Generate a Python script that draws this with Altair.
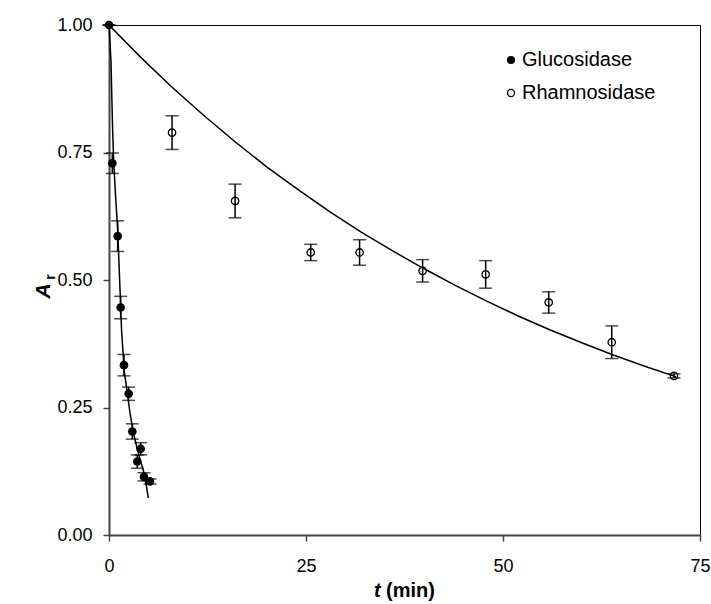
import altair as alt
import pandas as pd

# ---- data ----
gluc_t = [0, 0.42, 1.10, 1.48, 1.90, 2.49, 2.96, 3.59, 4.02, 4.44, 5.20]
gluc_a = [1.00, 0.729, 0.586, 0.446, 0.333, 0.277, 0.203, 0.144, 0.169, 0.114, 0.105]
gluc_err = [0.0, 0.020, 0.030, 0.022, 0.021, 0.013, 0.015, 0.013, 0.012, 0.008, 0.005]

rham_t = [8, 16, 25.6, 31.8, 39.8, 47.8, 55.8, 63.8, 71.7]
rham_a = [0.789, 0.655, 0.554, 0.554, 0.518, 0.511, 0.456, 0.378, 0.312]
rham_err = [0.033, 0.033, 0.016, 0.025, 0.022, 0.027, 0.021, 0.032, 0.004]

gluc_fit_t = [0, 0.25, 0.45, 0.6, 0.85, 1.1, 1.2, 1.4, 1.6, 1.94, 2.28, 2.66, 3.1, 3.52, 3.9, 4.35, 4.7, 4.99]
gluc_fit_a = [1.0, 0.93, 0.80, 0.73, 0.66, 0.60, 0.56, 0.48, 0.40, 0.32, 0.284, 0.24, 0.20, 0.173, 0.15, 0.127, 0.10, 0.073]

rham_fit_t = [0, 4, 8, 12, 16, 20, 24, 28, 32, 36, 40, 44, 48, 52, 56, 60, 64, 68, 72]
rham_fit_a = [1.0, 0.937, 0.878, 0.823, 0.771, 0.722, 0.677, 0.634, 0.594, 0.557, 0.522,
              0.489, 0.458, 0.429, 0.402, 0.377, 0.353, 0.331, 0.31]

legend_labels = ["Glucosidase", "Rhamnosidase"]
x_ticks = [0, 25, 50, 75]
y_ticks = [0, 0.25, 0.5, 0.75, 1.0]

FONT = "Liberation Sans"

gluc = pd.DataFrame({"t": gluc_t, "a": gluc_a,
                     "lo": [a - e for a, e in zip(gluc_a, gluc_err)],
                     "hi": [a + e for a, e in zip(gluc_a, gluc_err)]})
rham = pd.DataFrame({"t": rham_t, "a": rham_a,
                     "lo": [a - e for a, e in zip(rham_a, rham_err)],
                     "hi": [a + e for a, e in zip(rham_a, rham_err)]})
gfit = pd.DataFrame({"t": gluc_fit_t, "a": gluc_fit_a})
rfit = pd.DataFrame({"t": rham_fit_t, "a": rham_fit_a})

xs = alt.Scale(domain=[0, 75], nice=False, zero=False)
ys = alt.Scale(domain=[0, 1], nice=False)

x_axis = alt.Axis(values=x_ticks, title=None, tickSize=6, labelPadding=16,
                  labelFontSize=18, labelFont=FONT, labelColor="#000",
                  domainColor="#444", domainWidth=2, tickColor="#444", tickWidth=1.5,
                  grid=False, labelFlush=False)
y_axis = alt.Axis(values=y_ticks, format=".2f", title=None, tickSize=6, labelPadding=11,
                  labelFontSize=18, labelFont=FONT, labelColor="#000",
                  domainColor="#444", domainWidth=2, tickColor="#444", tickWidth=1.5,
                  grid=False)

X = alt.X("t:Q", scale=xs, axis=x_axis)
Y = alt.Y("a:Q", scale=ys, axis=y_axis)


def err_layers(df):
    base = alt.Chart(df)
    rule = base.mark_rule(color="black", strokeWidth=1.5).encode(
        x=alt.X("t:Q", scale=xs), y=alt.Y("lo:Q", scale=ys), y2="hi:Q")
    t_lo = base.mark_tick(orient="horizontal", size=13, thickness=1.5, color="black").encode(
        x=alt.X("t:Q", scale=xs), y=alt.Y("lo:Q", scale=ys))
    t_hi = base.mark_tick(orient="horizontal", size=13, thickness=1.5, color="black").encode(
        x=alt.X("t:Q", scale=xs), y=alt.Y("hi:Q", scale=ys))
    return [rule, t_lo, t_hi]


line_g = alt.Chart(gfit).mark_line(color="black", strokeWidth=1.5).encode(x=X, y=Y)
line_r = alt.Chart(rfit).mark_line(color="black", strokeWidth=1.5).encode(
    x=alt.X("t:Q", scale=xs), y=alt.Y("a:Q", scale=ys))

pts_g = alt.Chart(gluc).mark_point(filled=True, color="black", size=75, opacity=1).encode(
    x=alt.X("t:Q", scale=xs), y=alt.Y("a:Q", scale=ys))
pts_r = alt.Chart(rham).mark_point(filled=False, color="black", size=55, strokeWidth=1.3,
                                   opacity=1).encode(
    x=alt.X("t:Q", scale=xs), y=alt.Y("a:Q", scale=ys))

# legend
leg = pd.DataFrame({"label": legend_labels})
leg_g_pt = alt.Chart(leg.iloc[[0]]).mark_point(filled=True, color="black", size=65, opacity=1).encode(
    x=alt.value(402), y=alt.value(35))
leg_r_pt = alt.Chart(leg.iloc[[1]]).mark_point(filled=False, color="black", size=50, strokeWidth=1.3,
                                               opacity=1).encode(
    x=alt.value(402), y=alt.value(68))
leg_g_tx = alt.Chart(leg.iloc[[0]]).mark_text(align="left", baseline="middle", fontSize=20,
                                              font=FONT, color="black").encode(
    x=alt.value(413), y=alt.value(35), text="label:N")
leg_r_tx = alt.Chart(leg.iloc[[1]]).mark_text(align="left", baseline="middle", fontSize=20,
                                              font=FONT, color="black").encode(
    x=alt.value(413), y=alt.value(68), text="label:N")

# axis titles
ttl = pd.DataFrame({"s": ["t", "(min)", "A", "r"]})
xt_t = alt.Chart(ttl.iloc[[0]]).mark_text(align="left", baseline="middle", fontSize=20, font=FONT,
                                          fontWeight="bold", fontStyle="italic", color="black").encode(
    x=alt.value(265), y=alt.value(566), text="s:N")
xt_m = alt.Chart(ttl.iloc[[1]]).mark_text(align="left", baseline="middle", fontSize=20, font=FONT,
                                          fontWeight="bold", color="black").encode(
    x=alt.value(277), y=alt.value(566), text="s:N")
yt_a = alt.Chart(ttl.iloc[[2]]).mark_text(align="center", baseline="middle", fontSize=21, font=FONT,
                                          fontWeight="bold", fontStyle="italic", angle=270,
                                          color="black").encode(
    x=alt.value(-65), y=alt.value(266), text="s:N")
yt_r = alt.Chart(ttl.iloc[[3]]).mark_text(align="center", baseline="middle", fontSize=14, font=FONT,
                                          fontWeight="bold", angle=270, color="black").encode(
    x=alt.value(-58), y=alt.value(252), text="s:N")

layers = [line_g, line_r] + err_layers(gluc) + err_layers(rham) + [
    pts_g, pts_r, leg_g_pt, leg_r_pt, leg_g_tx, leg_r_tx, xt_t, xt_m, yt_a, yt_r]

chart = alt.layer(*layers).properties(
    width=591, height=510,
    autosize=alt.AutoSizeParams(type="none"),
    padding={"left": 109, "top": 25, "right": 11, "bottom": 69},
    background="white",
).configure_view(stroke="black", strokeWidth=1)

chart.save("out.html", embed_options={"renderer": "svg", "actions": False})
